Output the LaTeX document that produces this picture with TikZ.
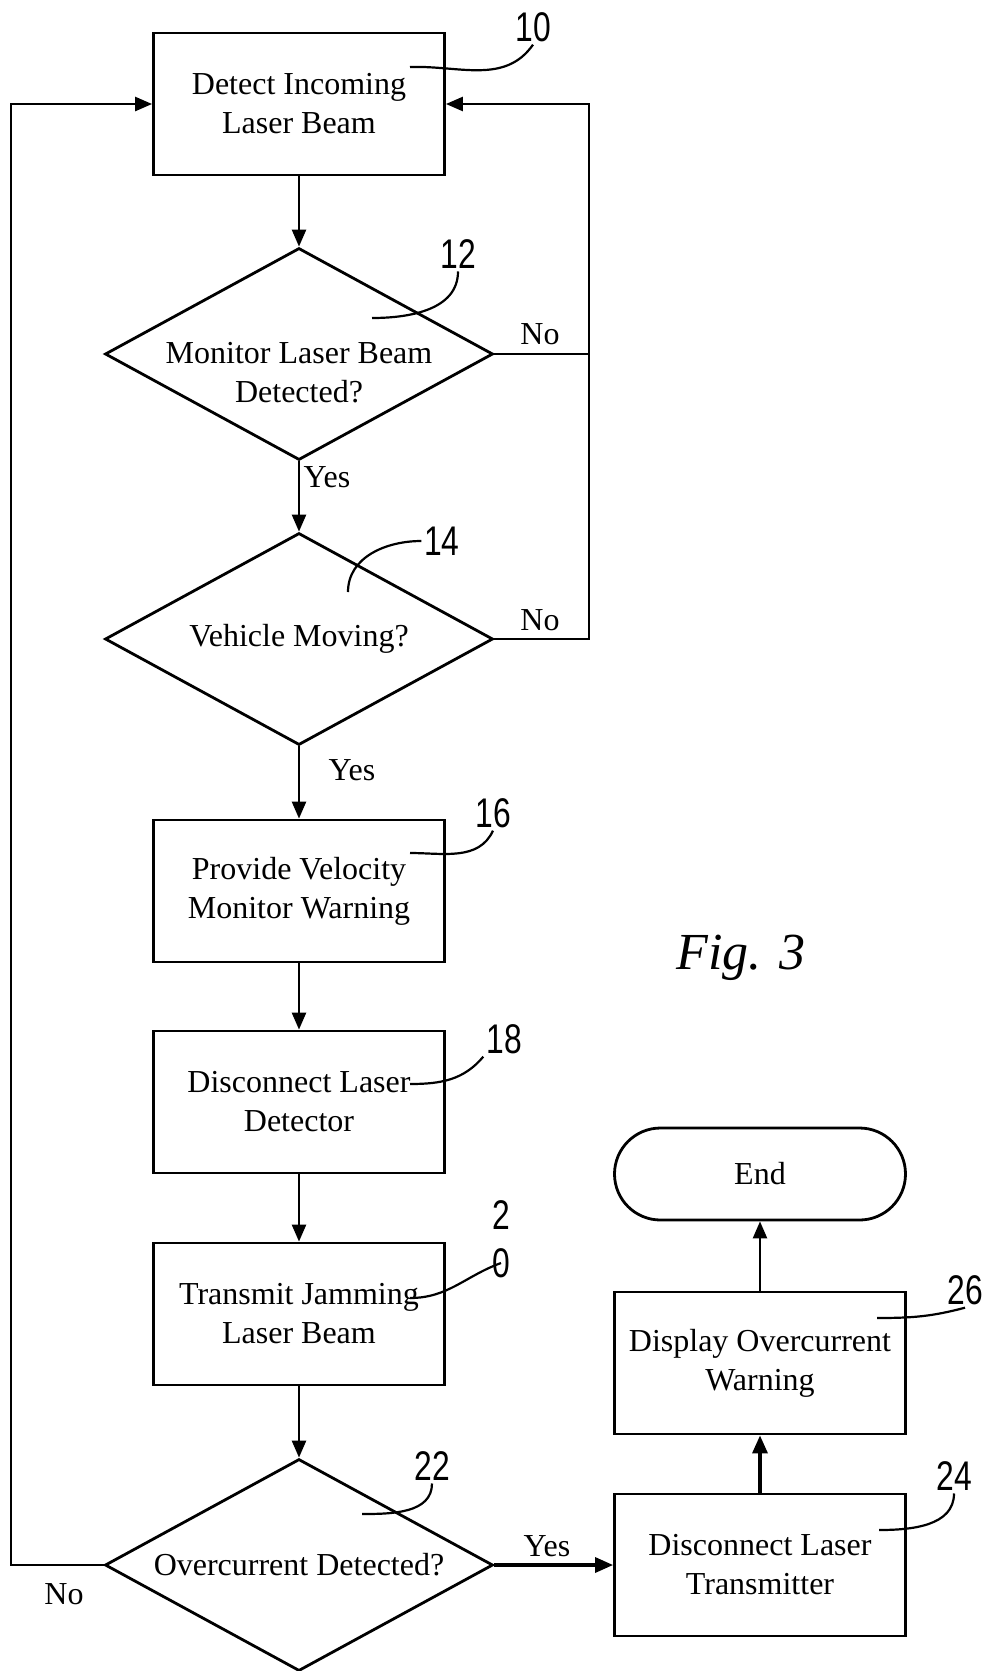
\documentclass[tikz,border=0pt]{standalone}
\usepackage{fontspec}
\setmainfont{Liberation Serif}
\newfontfamily\numfont{Liberation Sans}
\usetikzlibrary{arrows.meta,shapes.geometric}
% narrow, tall reference numerals
\newcommand\refdigits[1]{\scalebox{0.86}[1.12]{#1}}

\begin{document}
\begin{tikzpicture}[x=1pt,y=-1pt,
  txt/.style={font=\fontsize{32}{39}\selectfont, align=center, inner sep=0pt},
  stepbox/.style={draw, line width=2.8pt, minimum width=291pt, minimum height=142pt, inner sep=0pt, txt},
  decision/.style={draw, diamond, line width=2.8pt, minimum width=388pt, minimum height=212pt, inner sep=0pt},
  terminal/.style={draw, line width=2.8pt, rounded corners=46pt, minimum width=291pt, minimum height=92pt, txt},
  flow/.style={line width=2.5pt, -{Triangle[length=17pt,width=14pt]}},
  boldflow/.style={line width=3.3pt, -{Triangle[length=18pt,width=15pt]}},
  plain/.style={line width=2.5pt},
  refnum/.style={font=\numfont\fontsize{37}{48}\selectfont, inner sep=0pt, outer sep=3pt},
  leader/.style={line width=2.2pt},
  branch/.style={font=\fontsize{32}{39}\selectfont, inner sep=0pt},
]
\useasboundingbox (0,0) rectangle (987,1671);

% process steps
\node[stepbox] (b10) at (299,104) {Detect Incoming\\Laser Beam};
\node[decision] (d12) at (299,354) {};
\node[txt] (t12) at (299,373) {Monitor Laser Beam\\Detected?};
\node[decision] (d14) at (299,639) {};
\node[txt] (t14) at (299,639) {Vehicle Moving?};
\node[stepbox] (b16) at (299,891) {Provide Velocity\\Monitor Warning};
\node[stepbox] (b18) at (299,1102) {Disconnect Laser\\Detector};
\node[stepbox] (b20) at (299,1314) {Transmit Jamming\\Laser Beam};
\node[decision] (d22) at (299,1565) {};
\node[txt] (t22) at (299,1565) {Overcurrent Detected?};
\node[stepbox] (b24) at (760,1565) {Disconnect Laser\\Transmitter};
\node[stepbox] (b26) at (760,1363) {Display Overcurrent\\Warning};
\node[terminal] (end) at (760,1174) {End};

\node[font=\itshape\fontsize{52}{56}\selectfont] (fig) at (741,958) {Fig. 3};

% loop-back corners
\coordinate (rl) at (589,104);
\coordinate (ll) at (11,104);

% main flow
\draw[flow] (b10.south) -- (d12.north);
\draw[flow] (d12.south) -- (d14.north);
\draw[flow] (d14.south) -- (b16.north);
\draw[flow] (b16.south) -- (b18.north);
\draw[flow] (b18.south) -- (b20.north);
\draw[flow] (b20.south) -- (d22.north);
\draw[boldflow] (d22.east) -- (b24.west);
\draw[boldflow] (b24.north) -- (b26.south);
\draw[flow] (b26.north) -- (end.south);

% "No" branches back to the start
\draw[plain] (d12.east) -- (d12.east -| rl);
\draw[flow] (d14.east) -| (rl) -- (b10.east);
\draw[flow] (d22.west) -| (ll) -- (b10.west);

% branch labels
\node[branch] (no12) at (540,334) {No};
\node[branch] (yes12) at (327,477) {Yes};
\node[branch] (no14) at (540,620) {No};
\node[branch] (yes14) at (352,770) {Yes};
\node[branch] (no22) at (64,1594) {No};
\node[branch] (yes22) at (547,1546) {Yes};

% reference numerals with leaders
\node[refnum] (n10) at (533,27) {\refdigits{10}};
\node[refnum] (n12) at (458,254) {\refdigits{12}};
\node[refnum] (n14) at (442,541) {\refdigits{14}};
\node[refnum] (n16) at (493,813) {\refdigits{16}};
\node[refnum] (n18) at (504,1039) {\refdigits{18}};
\node[refnum] (n20a) at (501,1215) {\refdigits{2}};
\node[refnum] (n20b) at (501,1263) {\refdigits{0}};
\node[refnum] (n22) at (432,1466) {\refdigits{22}};
\node[refnum] (n24) at (954,1476) {\refdigits{24}};
\node[refnum] (n26) at (965,1290) {\refdigits{26}};

\coordinate (l10) at (410,67);
\coordinate (l12) at (372,318);
\coordinate (l14) at (348,592);
\coordinate (l16) at (410,853);
\coordinate (l18) at (410,1084);
\coordinate (l20) at (410,1298);
\coordinate (l22) at (362,1514);
\coordinate (l24) at (879,1530);
\coordinate (l26) at (877,1318);

\draw[leader] (l10) to[out=2,in=-125] (n10.south);
\draw[leader] (l12) to[out=0,in=-90] (n12.south);
\draw[leader] (l14) to[out=90,in=180] (n14.west);
\draw[leader] (l16) to[out=0,in=-115] (n16.south);
\draw[leader] (l18) to[out=0,in=-130] (n18.south west);
\draw[leader] (l20) to[out=0,in=-160] (n20b.center);
\draw[leader] (l22) to[out=0,in=-90] (n22.south);
\draw[leader] (l24) to[out=0,in=-90] (n24.south);
\draw[leader] (l26) to[out=0,in=-165] (n26.south);
\end{tikzpicture}
\end{document}
